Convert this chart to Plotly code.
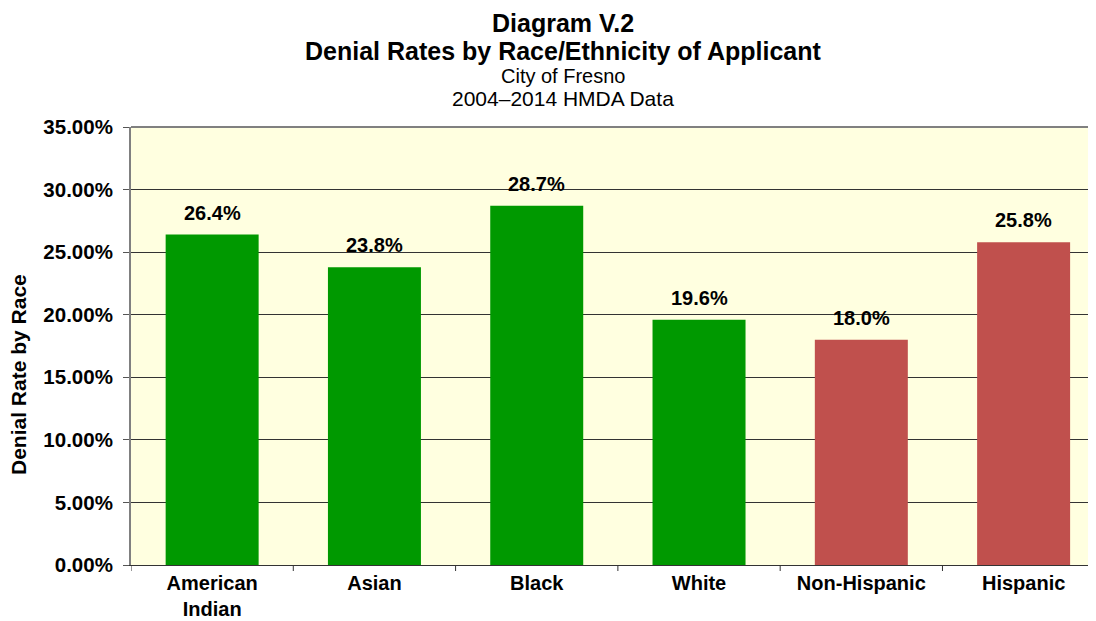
import plotly.graph_objects as go

categories = ["American<br>Indian", "Asian", "Black", "White", "Non-Hispanic", "Hispanic"]
values = [26.4, 23.8, 28.7, 19.6, 18.0, 25.8]
colors = ["#009900", "#009900", "#009900", "#009900", "#C0504D", "#C0504D"]
y_ticks = [0, 5, 10, 15, 20, 25, 30, 35]
y_tick_labels = [f"{v:.2f}%" for v in y_ticks]

FONT = "Arial, Liberation Sans, sans-serif"
OFF = 8  # page body margin
W, H = 1096, 621
L, T = 131 - OFF, 127 - OFF
B = H - (565 - OFF)
R = OFF
PH = H - T - B
PW = W - L - R


def py(p):
    return (565 - p) / PH


def px(p):
    return (p - 131) / PW


fig = go.Figure()
fig.add_trace(go.Bar(
    x=list(range(len(categories))), y=values,
    marker=dict(color=colors, line=dict(width=0)),
    hoverinfo="skip",
))

for i, v in enumerate(values):
    fig.add_annotation(x=i, y=v, text=f"<b>{v:.1f}%</b>", showarrow=False,
                       yanchor="middle", yshift=22,
                       font=dict(family=FONT, size=20, color="black"))

title_lines = [
    ("<b>Diagram V.2</b>", 25, 23),
    ("<b>Denial Rates by Race/Ethnicity of Applicant</b>", 25, 51),
    ("City of Fresno", 20, 76),
    ("2004\u20132014 HMDA Data", 21, 98),
]
for txt, size, ypix in title_lines:
    fig.add_annotation(xref="paper", yref="paper", x=px(563), y=py(ypix), text=txt,
                       showarrow=False, xanchor="center", yanchor="middle",
                       font=dict(family=FONT, size=size, color="black"))

fig.add_annotation(xref="paper", yref="paper", x=px(18), y=py(375),
                   text="<b>Denial Rate by Race</b>", textangle=-90, showarrow=False,
                   xanchor="center", yanchor="middle",
                   font=dict(family=FONT, size=21, color="black"))

fig.update_layout(
    width=W, height=H,
    margin=dict(l=L, r=R, t=T, b=B, autoexpand=False),
    paper_bgcolor="white",
    plot_bgcolor="#FFFFE0",
    bargap=0.427,
    showlegend=False,
    font=dict(family=FONT, color="black"),
    xaxis=dict(
        range=[-0.5, 5.446],
        tickmode="array", tickvals=list(range(len(categories))), ticktext=[f"<b>{c}</b>" for c in categories],
        ticks="", showgrid=False, zeroline=False, automargin=False,
        showline=True, linecolor="#333333", linewidth=1,
        tickfont=dict(size=20, family=FONT, color="black"),
        fixedrange=True,
    ),
    yaxis=dict(
        range=[0, 35], automargin=False,
        tickmode="array", tickvals=y_ticks, ticktext=[f"<b>{t}</b>" for t in y_tick_labels],
        ticks="outside", ticklen=6, tickcolor="#555555", ticklabelstandoff=6,
        showgrid=True, gridcolor="#333333", gridwidth=1,
        showline=True, linecolor="#808080", linewidth=2,
        zeroline=False,
        tickfont=dict(size=20.5, family=FONT, color="black"),
        fixedrange=True,
    ),
)

for b in [-0.5, 0.5, 1.5, 2.5, 3.5, 4.5]:
    fig.add_shape(type="line", xref="x", yref="paper", x0=b, x1=b, y0=0, y1=-6 / PH,
                  line=dict(color="#333333", width=1))
fig.add_shape(type="line", xref="paper", yref="paper", x0=0, x1=1, y0=1, y1=1,
              line=dict(color="#808080", width=2))

fig.write_html("out.html")
